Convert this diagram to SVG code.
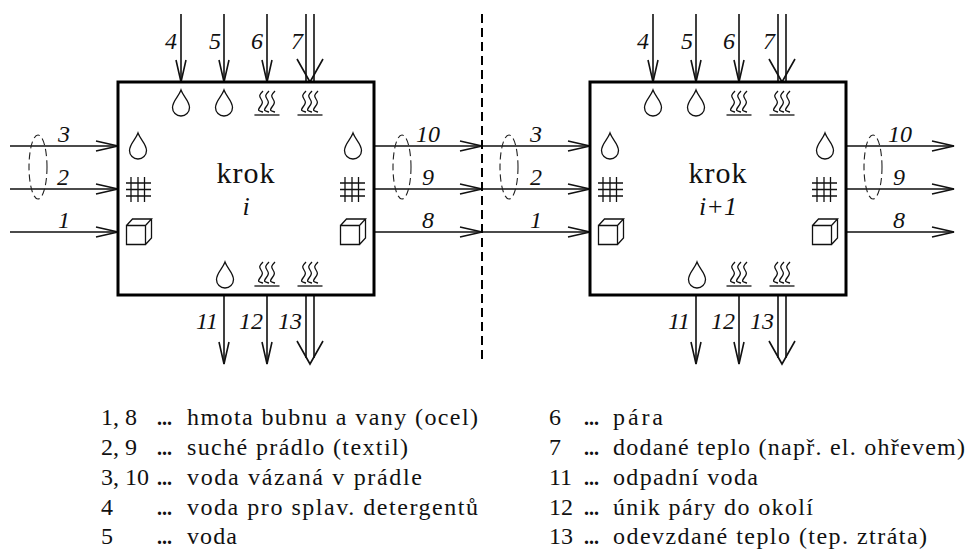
<svg xmlns="http://www.w3.org/2000/svg" width="968" height="549" viewBox="0 0 968 549">
<style>
.box{fill:#fff;stroke:#000;stroke-width:3}
.c{fill:none;stroke:#111;stroke-width:1.6}
.ah{fill:none;stroke:#111;stroke-width:1.6}
.ell{fill:none;stroke:#222;stroke-width:1.1;stroke-dasharray:7 4}
.ic{fill:none;stroke:#111;stroke-width:1.3}
.n{font-family:"Liberation Serif",serif;font-style:italic;font-size:24px;fill:#111;text-anchor:middle}
.k{font-family:"Liberation Serif",serif;font-size:30px;letter-spacing:1px;fill:#111;text-anchor:middle}
.ki{font-family:"Liberation Serif",serif;font-style:italic;font-size:26px;fill:#111;text-anchor:middle}
.l{font-family:"Liberation Serif",serif;font-size:24px;fill:#111}
.d{font-family:"Liberation Serif",serif;font-size:20px;font-weight:bold;fill:#111}
</style>
<defs>
<g id="drop"><path class="ic" d="M0 0C-2 6-8.500 11-8.500 17.500A8.500 8.500 0 0 0 8.500 17.500C8.500 11 2 6 0 0Z"/></g>
<g id="steam"><path class="ic" d="M-12.500 24H12.500"/><path class="ic" d="M-4 0c-4 4-4 5-2 8s2 4-1 8-1 4 3 5M2 0c-4 4-4 5-2 8s2 4-1 8-1 4 3 5M8 0c-4 4-4 5-2 8s2 4-1 8-1 4 3 5"/></g>
<g id="grid"><path class="ic" d="M5 0V25M12 0V25M18.500 0V25M0 6H25M0 12.500H25M0 19H25"/></g>
<g id="cube"><path class="ic" d="M0.500 6.500H19.500V25.500H0.500ZM0.500 6.500L6.500 0H25.500L19.500 6.500M25.500 0V19L19.500 25.500"/></g>
<g id="aR"><path class="ah" d="M-22 -5L0 0L-22 5"/></g>
<g id="aD"><path class="ah" d="M-5 -22L0 0L5 -22"/></g>
<g id="aW"><path class="ah" d="M-13 -23L0 0L13 -23"/></g>
</defs>
<g id="connectors">
<path class="c" d="M10 146H118M10 189H118M10 232H118M374 146H482M374 189H482M374 232H482M482 146H590M482 189H590M482 232H590M846 146H954M846 189H954M846 232H954"/>
<path class="c" d="M181 14V82M224 14V82M267 14V82M306 14V82M314 14V82M653 14V82M696 14V82M739 14V82M778 14V82M786 14V82"/>
<path class="c" d="M224 295V364M267 295V364M306 295V358M314 295V358M696 295V364M739 295V364M778 295V358M786 295V358"/>
<use href="#aR" x="118" y="146"/><use href="#aR" x="118" y="189"/><use href="#aR" x="118" y="232"/>
<use href="#aR" x="482" y="146"/><use href="#aR" x="482" y="189"/><use href="#aR" x="482" y="232"/>
<use href="#aR" x="590" y="146"/><use href="#aR" x="590" y="189"/><use href="#aR" x="590" y="232"/>
<use href="#aR" x="954" y="146"/><use href="#aR" x="954" y="189"/><use href="#aR" x="954" y="232"/>
<use href="#aD" x="181" y="82"/><use href="#aD" x="224" y="82"/><use href="#aD" x="267" y="82"/><use href="#aW" x="310" y="82"/>
<use href="#aD" x="653" y="82"/><use href="#aD" x="696" y="82"/><use href="#aD" x="739" y="82"/><use href="#aW" x="782" y="82"/>
<use href="#aD" x="224" y="364"/><use href="#aD" x="267" y="364"/><use href="#aW" x="310" y="364"/>
<use href="#aD" x="696" y="364"/><use href="#aD" x="739" y="364"/><use href="#aW" x="782" y="364"/>
<path d="M482 14V360" fill="none" stroke="#000" stroke-width="2" stroke-dasharray="9 5"/>
<ellipse class="ell" cx="38" cy="167" rx="9" ry="32"/><ellipse class="ell" cx="402" cy="167" rx="9" ry="32"/><ellipse class="ell" cx="509" cy="167" rx="9" ry="32"/><ellipse class="ell" cx="873" cy="167" rx="9" ry="32"/>
</g>
<g id="node-krok-i">
<rect class="box" x="118" y="82" width="256" height="213"/>
<use href="#drop" x="181" y="90"/><use href="#drop" x="224" y="90"/><use href="#steam" x="267" y="91"/><use href="#steam" x="310" y="91"/>
<use href="#drop" x="138" y="133"/><use href="#grid" x="126" y="177"/><use href="#cube" x="126" y="219"/>
<use href="#drop" x="353" y="133"/><use href="#grid" x="340" y="177"/><use href="#cube" x="340" y="219"/>
<use href="#drop" x="225" y="262"/><use href="#steam" x="267" y="262"/><use href="#steam" x="310" y="262"/>
<text class="k" x="246" y="183">krok</text><text class="ki" x="246" y="215">i</text>
</g>
<g id="node-krok-i1">
<rect class="box" x="590" y="82" width="256" height="213"/>
<use href="#drop" x="653" y="90"/><use href="#drop" x="696" y="90"/><use href="#steam" x="739" y="91"/><use href="#steam" x="782" y="91"/>
<use href="#drop" x="610" y="133"/><use href="#grid" x="598" y="177"/><use href="#cube" x="598" y="219"/>
<use href="#drop" x="825" y="133"/><use href="#grid" x="812" y="177"/><use href="#cube" x="812" y="219"/>
<use href="#drop" x="697" y="262"/><use href="#steam" x="739" y="262"/><use href="#steam" x="782" y="262"/>
<text class="k" x="718" y="183">krok</text><text class="ki" x="718" y="215">i+1</text>
</g>
<g id="flow-labels">
<text class="n" x="171" y="49">4</text><text class="n" x="215" y="49">5</text><text class="n" x="257" y="49">6</text><text class="n" x="297" y="49">7</text>
<text class="n" x="64" y="142">3</text><text class="n" x="63" y="185">2</text><text class="n" x="64" y="228">1</text>
<text class="n" x="428" y="142">10</text><text class="n" x="428" y="185">9</text><text class="n" x="428" y="228">8</text>
<text class="n" x="536" y="142">3</text><text class="n" x="536" y="185">2</text><text class="n" x="536" y="228">1</text>
<text class="n" x="643" y="49">4</text><text class="n" x="687" y="49">5</text><text class="n" x="729" y="49">6</text><text class="n" x="769" y="49">7</text>
<text class="n" x="900" y="142">10</text><text class="n" x="899" y="185">9</text><text class="n" x="899" y="228">8</text>
<text class="n" x="207" y="329">11</text><text class="n" x="251" y="329">12</text><text class="n" x="290" y="329">13</text>
<text class="n" x="679" y="329">11</text><text class="n" x="723" y="329">12</text><text class="n" x="762" y="329">13</text>
</g>
<g id="legend">
<text class="l" x="101" y="425">1, 8</text><text class="d" x="157" y="425">...</text><text class="l" x="187" y="425" textLength="291">hmota bubnu a vany (ocel)</text>
<text class="l" x="101" y="455">2, 9</text><text class="d" x="157" y="455">...</text><text class="l" x="187" y="455" textLength="221">suché prádlo (textil)</text>
<text class="l" x="101" y="485">3, 10</text><text class="d" x="157" y="485">...</text><text class="l" x="187" y="485" textLength="235">voda vázaná v prádle</text>
<text class="l" x="101" y="515">4</text><text class="d" x="157" y="515">...</text><text class="l" x="187" y="515" textLength="291">voda pro splav. detergentů</text>
<text class="l" x="101" y="543.500">5</text><text class="d" x="157" y="543.500">...</text><text class="l" x="187" y="543.500" textLength="50">voda</text>
<text class="l" x="549" y="425">6</text><text class="d" x="584" y="425">...</text><text class="l" x="613" y="425" textLength="50">pára</text>
<text class="l" x="549" y="455">7</text><text class="d" x="584" y="455">...</text><text class="l" x="613" y="455" textLength="352">dodané teplo (např. el. ohřevem)</text>
<text class="l" x="549" y="485">11</text><text class="d" x="584" y="485">...</text><text class="l" x="613" y="485" textLength="145">odpadní voda</text>
<text class="l" x="549" y="515">12</text><text class="d" x="584" y="515">...</text><text class="l" x="613" y="515" textLength="200">únik páry do okolí</text>
<text class="l" x="549" y="543.500">13</text><text class="d" x="584" y="543.500">...</text><text class="l" x="613" y="543.500" textLength="314">odevzdané teplo (tep. ztráta)</text>
</g>
</svg>
